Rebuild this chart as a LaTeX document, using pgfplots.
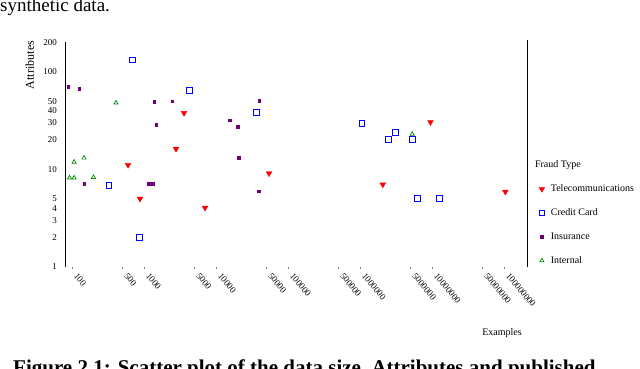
\documentclass[border=0pt]{standalone}
\usepackage{fontspec}
\setmainfont{Liberation Serif}
\usepackage{pgfplots}
\pgfplotsset{compat=1.18}

\definecolor{tele}{RGB}{255,0,0}
\definecolor{card}{RGB}{0,0,255}
\definecolor{insur}{RGB}{112,0,120}
\definecolor{intern}{RGB}{0,140,0}

\begin{document}
\begin{tikzpicture}
\useasboundingbox (0,0) rectangle (640pt,-368pt);
\clip (0,0) rectangle (640pt,-368pt);

% bits of the page text around the figure
\node[anchor=base west, inner sep=0, font=\fontsize{19}{20}\selectfont] at (0pt,-11pt) {synthetic data.};
\node[anchor=base west, inner sep=0, font=\fontsize{21}{22}\selectfont\bfseries] at (13pt,-374pt)
  {Figure 2.1: Scatter plot of the data size, Attributes and published};

\begin{axis}[
    at={(65pt,-267pt)}, anchor=south west,
    scale only axis,
    width=462pt, height=224.7pt,
    xmode=log, ymode=log,
    xmin=79.9, xmax=2.08e8,
    ymin=1, ymax=200,
    axis y line*=left,
    axis x line*=bottom,
    x axis line style={draw=none},
    y axis line style={line width=0.8pt},
    xtick={100,500,1000,5000,10000,50000,100000,500000,1000000,5000000,10000000,50000000,100000000},
    xticklabels={100,500,1000,5000,10000,50000,100000,500000,1000000,5000000,10000000,50000000,100000000},
    ytick={1,2,3,4,5,10,20,30,40,50,100,200},
    yticklabels={1,2,3,4,5,10,20,30,40,50,100,200},
    minor xtick={}, minor ytick={},
    tick align=outside,
    major tick length=1.5pt,
    ytick style={draw=none},
    tick label style={font=\fontsize{9}{10}\selectfont},
    x tick label style={xshift=3pt, yshift=-5pt, rotate=-50, anchor=west, inner sep=1pt},
    y tick label style={xshift=-3pt},
    clip=false,
    xlabel={Examples},
    x label style={at={(axis description cs:0.946,-0.294)}, anchor=center, font=\fontsize{10}{11}\selectfont},
    ylabel={Attributes},
    y label style={at={(axis description cs:-0.076,0.899)}, anchor=center, rotate=0, font=\fontsize{12}{13}\selectfont},
    legend style={at={(axis description cs:1.019,0.385)}, anchor=north west,
      draw=none, fill=none, row sep=11.6pt, font=\fontsize{10}{11}\selectfont},
    legend cell align=left,
    legend image code/.code={\path[draw=none] (0pt,0pt) -- (7pt,0pt); \draw[#1] plot coordinates {(0pt,0pt)};},
]
% Telecommunications
\addplot[only marks, mark=triangle*, color=tele, mark size=3.3pt,
  mark options={rotate=180, fill=tele}] coordinates {
  (600,11.1) (880,5.0) (2780,16.2) (3590,37.8) (7030,4.05)
  (54500,9.1) (2070000,7.0) (9500000,30.4) (104000000,5.9)
};
\addlegendentry{Telecommunications}
% Credit Card
\addplot[only marks, mark=square, color=card, mark size=2.9pt, line width=0.8pt] coordinates {
  (326,6.9) (681,132) (853,2.0) (4220,64) (36700,38.1)
  (1060000,29.4) (2500000,20.2) (3090000,24) (5280000,20.2)
  (6300000,5.0) (12600000,5.0)
};
\addlegendentry{Credit Card}
% Insurance
\addplot[only marks, mark=square*, color=insur, mark size=1.3pt] coordinates {
  (88,70) (125,67) (147,7.1) (1158,7.1) (1313,7.1) (1377,49) (1468,28.5)
  (2449,50) (15500,31.9) (20000,27.2) (20600,13.1) (39200,6.0) (39900,50.6)
};
\addlegendentry{Insurance}
% Internal
\addplot[only marks, mark=triangle, color=intern, mark size=2.4pt, line width=0.7pt] coordinates {
  (92,8.2) (107,8.2) (107,11.9) (147,13.1) (198,8.3) (408,48) (5300000,23)
};
\addlegendentry{Internal}

\draw[line width=0.8pt] (axis description cs:1,0) -- (axis description cs:1,1.01);
\node[anchor=west, inner sep=0, font=\fontsize{10}{11}\selectfont] at (axis description cs:1.017,0.455) {Fraud Type};
\end{axis}
\end{tikzpicture}
\end{document}
